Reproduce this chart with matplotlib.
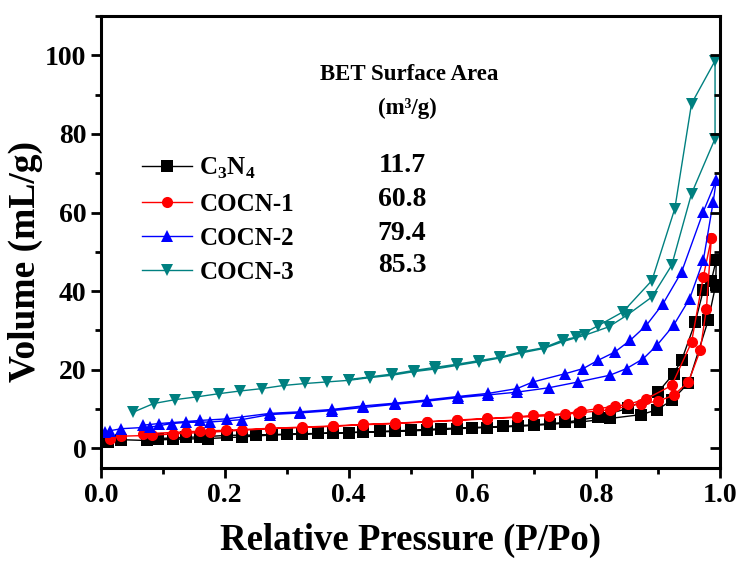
import numpy as np
import matplotlib
matplotlib.use("Agg")
import matplotlib.pyplot as plt
from matplotlib.ticker import MultipleLocator, FormatStrFormatter

plt.rcParams["font.family"] = "Liberation Serif"
plt.rcParams["font.weight"] = "bold"
plt.rcParams["mathtext.fontset"] = "custom"
plt.rcParams["mathtext.rm"] = "Liberation Serif:bold"

# N2 isotherms: adsorption branch (rising P/Po) then desorption branch (falling P/Po)
c3n4_ads_p = [0.012, 0.033, 0.074, 0.116, 0.173, 0.227, 0.276, 0.324, 0.375, 0.424, 0.475, 0.526,
              0.575, 0.623, 0.674, 0.725, 0.774, 0.822, 0.873, 0.898, 0.922, 0.949, 0.981, 0.993]
c3n4_ads_v = [1.6, 2.2, 2.0, 2.3, 2.5, 2.9, 3.4, 3.6, 3.9, 4.1, 4.3, 4.6,
              5.0, 5.3, 5.6, 6.1, 6.7, 7.6, 8.6, 9.8, 12.2, 16.6, 32.6, 41.5]
c3n4_des_p = [0.994, 0.986, 0.973, 0.960, 0.938, 0.925, 0.900, 0.852, 0.803, 0.750, 0.700, 0.650,
              0.600, 0.550, 0.500, 0.450, 0.400, 0.350, 0.300, 0.250, 0.203, 0.160, 0.138, 0.092]
c3n4_des_v = [48.0, 42.7, 40.2, 32.1, 22.4, 19.0, 14.3, 10.2, 8.0, 6.6, 6.0, 5.6,
              5.3, 5.0, 4.6, 4.3, 4.0, 3.8, 3.6, 3.4, 3.3, 2.9, 2.8, 2.5]

cocn1_ads_p = [0.015, 0.033, 0.082, 0.117, 0.176, 0.227, 0.273, 0.324, 0.375, 0.424, 0.475, 0.526,
               0.575, 0.623, 0.672, 0.723, 0.771, 0.822, 0.873, 0.900, 0.925, 0.949, 0.968, 0.978, 0.986]
cocn1_ads_v = [2.5, 3.1, 3.3, 3.7, 4.1, 4.6, 5.0, 5.3, 5.6, 6.0, 6.3, 6.7,
               7.1, 7.5, 7.9, 8.3, 9.0, 9.8, 11.4, 12.0, 13.5, 16.9, 24.9, 35.5, 53.4]
cocn1_des_p = [0.986, 0.973, 0.954, 0.922, 0.881, 0.852, 0.830, 0.803, 0.776, 0.750, 0.698, 0.672,
               0.623, 0.575, 0.526, 0.475, 0.424, 0.375, 0.324, 0.273, 0.202, 0.160, 0.137, 0.068]
cocn1_des_v = [53.4, 43.6, 27.0, 16.0, 12.6, 11.2, 10.7, 10.1, 9.5, 8.8, 8.4, 8.0,
               7.6, 7.2, 6.8, 6.4, 6.1, 5.7, 5.4, 5.1, 4.6, 4.4, 4.2, 3.7]

cocn2_ads_p = [0.006, 0.015, 0.033, 0.079, 0.114, 0.138, 0.176, 0.227, 0.273, 0.321, 0.373, 0.424,
               0.475, 0.526, 0.577, 0.626, 0.672, 0.723, 0.771, 0.822, 0.849, 0.876, 0.898, 0.925,
               0.951, 0.973, 0.989]
cocn2_ads_v = [4.1, 4.5, 5.0, 5.4, 6.3, 6.6, 6.7, 7.3, 8.6, 9.0, 9.6, 10.4,
               11.2, 12.0, 12.9, 13.6, 14.3, 15.4, 16.9, 18.6, 20.3, 22.8, 26.2, 31.3,
               38.1, 47.8, 62.7]
cocn2_des_p = [0.994, 0.973, 0.938, 0.908, 0.881, 0.855, 0.830, 0.803, 0.779, 0.750, 0.698, 0.672,
               0.626, 0.577, 0.526, 0.475, 0.424, 0.373, 0.321, 0.273, 0.203, 0.160, 0.093, 0.068]
cocn2_des_v = [68.2, 60.2, 44.9, 36.8, 31.3, 27.5, 24.5, 22.4, 20.3, 19.0, 16.9, 15.2,
               14.0, 13.2, 12.3, 11.5, 10.8, 9.9, 9.3, 8.9, 7.5, 7.1, 6.3, 5.9]

cocn3_ads_p = [0.052, 0.085, 0.120, 0.155, 0.190, 0.225, 0.260, 0.295, 0.330, 0.365, 0.400, 0.435,
               0.470, 0.505, 0.540, 0.575, 0.610, 0.645, 0.680, 0.715, 0.747, 0.782, 0.820, 0.849,
               0.890, 0.922, 0.954, 0.992]
cocn3_ads_v = [9.2, 11.4, 12.4, 13.1, 13.9, 14.6, 15.2, 16.0, 16.5, 16.9, 17.3, 18.0,
               18.6, 19.5, 20.2, 21.1, 22.0, 23.0, 24.3, 25.4, 27.2, 28.8, 30.9, 33.8,
               38.5, 46.6, 64.8, 78.8]
cocn3_des_p = [0.992, 0.954, 0.927, 0.890, 0.843, 0.803, 0.768, 0.747, 0.715, 0.680, 0.645, 0.610,
               0.575, 0.540, 0.505, 0.470, 0.435, 0.400]
cocn3_des_v = [98.6, 87.7, 61.0, 42.7, 34.7, 31.2, 28.3, 27.6, 25.6, 24.6, 23.2, 22.3,
               21.4, 20.6, 19.8, 18.9, 18.2, 17.5]

sample_labels = ["C$_3$N$_4$", "COCN-1", "COCN-2", "COCN-3"]
bet_area = [11.7, 60.8, 79.4, 85.3]

series = [
    (c3n4_ads_p, c3n4_ads_v, c3n4_des_p, c3n4_des_v, "black", "s"),
    (cocn1_ads_p, cocn1_ads_v, cocn1_des_p, cocn1_des_v, "red", "o"),
    (cocn2_ads_p, cocn2_ads_v, cocn2_des_p, cocn2_des_v, "blue", "^"),
    (cocn3_ads_p, cocn3_ads_v, cocn3_des_p, cocn3_des_v, "#008080", "v"),
]

W, H = 740, 565
fig = plt.figure(figsize=(W / 100, H / 100), dpi=100)
ax = fig.add_axes([101 / W, 1 - 468 / H, 619 / W, 452 / H])

handles = []
for (ap, av, dp, dv, col, mk), lab in zip(series, sample_labels):
    p = np.concatenate([ap, dp])
    v = np.concatenate([av, dv])
    h, = ax.plot(p, v, color=col, marker=mk, markersize=8, linewidth=1.0,
                 markeredgewidth=0, label=lab)
    handles.append(h)

ax.set_xlim(0, 1.0)
ax.set_ylim(-5, 110)
ax.xaxis.set_major_locator(MultipleLocator(0.2))
ax.xaxis.set_minor_locator(MultipleLocator(0.1))
ax.yaxis.set_major_locator(MultipleLocator(20))
ax.yaxis.set_minor_locator(MultipleLocator(10))
ax.xaxis.set_major_formatter(FormatStrFormatter("%.1f"))
ax.tick_params(which="both", direction="out", width=2, labelsize=20, top=False, right=False)
ax.tick_params(which="major", length=7)
ax.tick_params(which="minor", length=4)
for s in ax.spines.values():
    s.set_linewidth(2.2)

# inward ticks on the right frame
rax = ax.twinx()
rax.set_ylim(ax.get_ylim())
rax.yaxis.set_major_locator(MultipleLocator(20))
rax.yaxis.set_minor_locator(MultipleLocator(10))
rax.tick_params(which="both", direction="in", width=2, labelright=False)
rax.tick_params(which="major", length=7)
rax.tick_params(which="minor", length=4)

ax.set_xlabel("Relative Pressure (P/Po)", fontsize=26.5, fontweight="bold", labelpad=11)
ax.set_ylabel("Volume (mL/g)", fontsize=27, fontweight="bold")
ax.yaxis.set_label_coords(-0.094, 0.456)

leg = ax.legend(handles=handles, loc="upper left", bbox_to_anchor=(0.05, 0.712),
                frameon=False, fontsize=18, handlelength=2.0, handletextpad=0.3,
                labelspacing=0.45, borderaxespad=0)


def pixel_text(x, y, s, size):
    # place text by pixel position counted from the top-left corner of the figure
    ax.text(x, H - y, s, transform=None, fontsize=size, fontweight="bold",
            ha="center", va="center")


pixel_text(409, 74, "BET Surface Area", 16.5)
pixel_text(407, 108, "(m³/g)", 16.5)

row_y = [166, 199, 233, 266]
for val, y in zip(bet_area, row_y):
    pixel_text(402, y, f"{val:.1f}", 20)

fig.savefig("out.png", dpi=100)
